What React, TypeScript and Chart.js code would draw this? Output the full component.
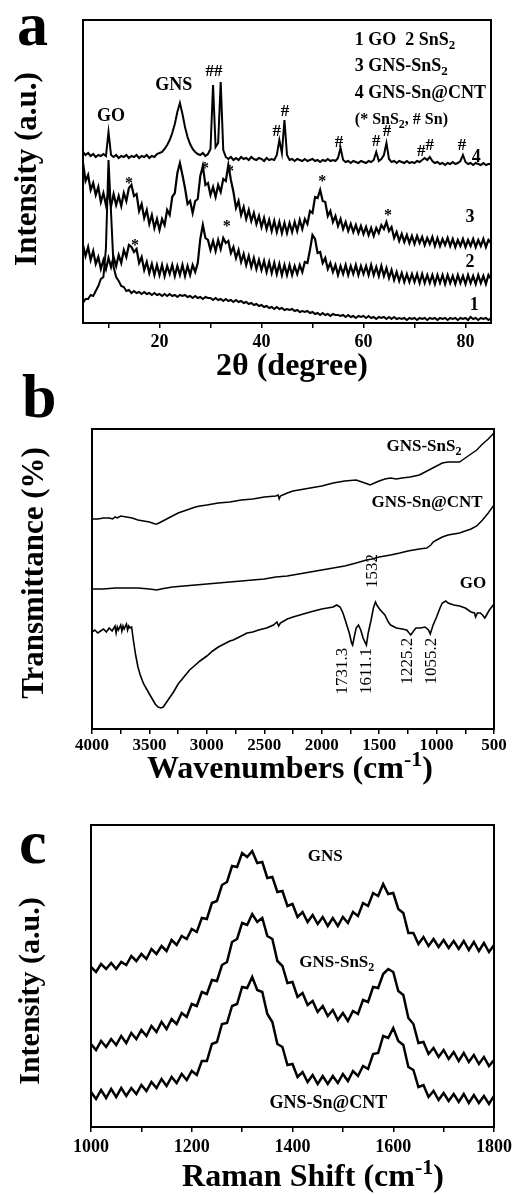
import React, { useEffect, useRef } from 'react';
import { Chart, registerables } from 'chart.js';

Chart.register(...registerables);

const FONT = '"Liberation Serif", "Times New Roman", Times, serif';

// ---------------- Panel a: XRD ----------------
const xrdAngles = [
  5, 5.5, 6, 6.5, 7, 7.5, 8, 8.5, 9, 9.5,
  10, 10.5, 11, 11.5, 12, 12.5, 13, 13.5, 14, 14.5,
  15, 15.5, 16, 16.5, 17, 17.5, 18, 18.5, 19, 19.5,
  20, 20.5, 21, 21.5, 22, 22.5, 23, 23.5, 24, 24.5,
  25, 25.5, 26, 26.5, 27, 27.5, 28, 28.5, 29, 29.5,
  30, 30.5, 31, 31.5, 32, 32.5, 33, 33.5, 34, 34.5,
  35, 35.5, 36, 36.5, 37, 37.5, 38, 38.5, 39, 39.5,
  40, 40.5, 41, 41.5, 42, 42.5, 43, 43.5, 44, 44.5,
  45, 45.5, 46, 46.5, 47, 47.5, 48, 48.5, 49, 49.5,
  50, 50.5, 51, 51.5, 52, 52.5, 53, 53.5, 54, 54.5,
  55, 55.5, 56, 56.5, 57, 57.5, 58, 58.5, 59, 59.5,
  60, 60.5, 61, 61.5, 62, 62.5, 63, 63.5, 64, 64.5,
  65, 65.5, 66, 66.5, 67, 67.5, 68, 68.5, 69, 69.5,
  70, 70.5, 71, 71.5, 72, 72.5, 73, 73.5, 74, 74.5,
  75, 75.5, 76, 76.5, 77, 77.5, 78, 78.5, 79, 79.5,
  80, 80.5, 81, 81.5, 82, 82.5, 83, 83.5, 84, 84.5,
  85,
];

const xrdGNSSnCNT = [
  171, 168, 170, 167, 169, 166, 168, 167, 169, 167,
  191, 168, 166, 168, 165, 167, 166, 168, 165, 167,
  166, 168, 165, 167, 166, 168, 165, 167, 166, 169,
  170, 171, 174, 178, 183, 190, 199, 211, 220, 209,
  196, 186, 179, 174, 171, 169, 168, 170, 167, 169,
  174, 238, 176, 180, 241, 173, 166, 164, 166, 163,
  165, 163, 166, 164, 165, 163, 166, 164, 163, 165,
  164, 162, 165, 163, 164, 163, 168, 183, 170, 203,
  168, 163, 164, 162, 164, 163, 162, 164, 162, 163,
  164, 162, 163, 161, 163, 162, 164, 162, 163, 162,
  165, 175, 163, 161, 162, 160, 162, 161, 160, 162,
  161, 160, 162, 161, 163, 171, 162, 164, 168, 180,
  164, 161, 162, 160, 162, 161, 160, 162, 160, 161,
  160, 162, 161, 163, 165, 163, 166, 162, 160, 161,
  159, 160, 158, 160, 159, 161, 159, 160, 162, 168,
  161, 159, 160, 158, 160, 159, 158, 160, 158, 159,
  159,
];

const xrdGNSSnS2 = [
  160, 142, 148, 133, 140, 128, 136, 121, 130, 118,
  131, 117, 129, 118, 127, 117, 130, 122, 135, 138,
  127, 129, 112, 119, 105, 113, 99, 108, 95, 104,
  93, 104, 98, 113, 108, 126, 130, 150, 160, 148,
  135, 119, 122, 110, 122, 124, 147, 157, 138, 140,
  128, 136, 126, 138, 131, 144, 142, 158, 143, 131,
  115, 122, 108, 116, 104, 113, 102, 110, 99, 107,
  96, 105, 94, 103, 92, 102, 91, 101, 90, 100,
  90, 100, 91, 101, 92, 103, 94, 104, 99, 112,
  110, 126, 125, 133, 122, 121, 107, 112, 101, 107,
  97, 104, 94, 101, 92, 99, 91, 98, 90, 97,
  89, 96, 88, 95, 87, 95, 90, 98, 94, 101,
  92, 96, 85, 91, 82, 89, 81, 88, 80, 87,
  79, 87, 80, 86, 78, 85, 79, 86, 77, 85,
  77, 84, 78, 85, 77, 84, 76, 83, 77, 84,
  76, 83, 77, 84, 76, 83, 77, 84, 76, 83,
  80,
];

const xrdSnS2 = [
  78, 67, 76, 63, 72, 59, 66, 54, 63, 54,
  65, 56, 66, 57, 68, 60, 73, 66, 78, 76,
  71, 74, 60, 66, 53, 61, 50, 59, 48, 58,
  48, 58, 47, 57, 49, 58, 47, 57, 48, 58,
  47, 57, 48, 58, 51, 60, 84, 98, 85, 83,
  73, 82, 72, 83, 74, 85, 80, 82, 70, 76,
  65, 73, 61, 69, 58, 67, 56, 65, 54, 63,
  53, 62, 51, 61, 50, 60, 49, 59, 48, 58,
  48, 58, 48, 57, 49, 58, 51, 61, 60, 73,
  88, 84, 70, 71, 60, 65, 54, 60, 51, 58,
  48, 57, 49, 58, 48, 57, 49, 58, 48, 57,
  49, 57, 48, 58, 48, 56, 47, 57, 47, 55,
  45, 53, 43, 51, 42, 50, 41, 49, 41, 49,
  41, 49, 40, 49, 40, 48, 40, 48, 39, 48,
  40, 48, 39, 48, 40, 47, 39, 48, 40, 47,
  39, 48, 40, 47, 39, 48, 40, 47, 39, 48,
  44,
];

const xrdGO = [
  20, 24, 24, 28, 27, 32, 37, 44, 46, 75,
  163, 110, 56, 46, 42, 37, 36, 32, 33, 30,
  32, 30, 31, 29, 31, 29, 30, 28, 30, 28,
  29, 27, 29, 27, 29, 27, 28, 26, 28, 27,
  28, 26, 27, 25, 27, 25, 26, 24, 26, 25,
  25, 23, 25, 23, 24, 22, 24, 22, 23, 21,
  23, 21, 22, 20, 21, 19, 20, 18, 19, 17,
  18, 16, 17, 15, 16, 14, 16, 14, 15, 13,
  14, 13, 14, 12, 13, 11, 12, 11, 12, 10,
  11, 9, 10, 8, 10, 8, 9, 7, 9, 8,
  8, 7, 8, 6, 8, 6, 7, 5, 7, 6,
  7, 5, 7, 5, 6, 4, 6, 5, 6, 4,
  6, 4, 6, 4, 5, 4, 5, 3, 5, 4,
  5, 3, 5, 4, 5, 3, 5, 4, 5, 3,
  5, 4, 5, 3, 5, 4, 5, 3, 5, 4,
  5, 3, 6, 4, 5, 3, 5, 4, 5, 3,
  5,
];

const xrdTicks = [10, 20, 30, 40, 50, 60, 70, 80];
const xrdTickLabels = [20, 40, 60, 80];

// ---------------- Panel b: FTIR ----------------
const goWavenumbers = [
  4000, 3975, 3950, 3925, 3900, 3875, 3850, 3825, 3800, 3790, 3780, 3770, 3750, 3740, 3730, 3720,
  3700, 3690, 3680, 3670, 3655, 3640, 3620, 3600, 3580, 3550, 3520, 3495, 3470, 3450, 3425, 3400,
  3380, 3350, 3320, 3290, 3250, 3200, 3150, 3100, 3060, 3000, 2950, 2900, 2850, 2800, 2770, 2700,
  2650, 2600, 2550, 2480, 2420, 2390, 2375, 2360, 2300, 2250, 2190, 2100, 2000, 1950, 1900, 1870,
  1840, 1815, 1790, 1760, 1740, 1731, 1715, 1700, 1680, 1660, 1640, 1611, 1595, 1570, 1550, 1532,
  1515, 1490, 1450, 1420, 1400, 1350, 1300, 1260, 1225, 1200, 1180, 1140, 1100, 1070, 1055, 1030,
  1000, 970, 950, 920, 900, 850, 800, 750, 700, 670, 660, 645, 620, 600, 580, 560, 540, 520, 500,
];
const goTransmittance = [
  97, 99, 96, 98, 100, 97, 101, 98, 103, 96, 102, 99, 104, 98, 103, 100,
  105, 99, 103, 101, 102, 89, 74, 62, 54, 45, 39, 34, 29, 25, 22, 21,
  22, 27, 32, 37, 45, 52, 59, 64, 68, 73, 78, 82, 85, 88, 89, 93,
  96, 97, 99, 101, 104, 107, 103, 106, 110, 112, 114, 117, 120, 121, 122, 124,
  122, 116, 107, 96, 86, 84, 93, 101, 104, 99, 91, 84, 96, 109, 121, 127,
  123, 119, 114, 107, 104, 101, 100, 99, 94, 98, 101, 101, 102, 99, 95, 104,
  112, 121, 126, 128, 126, 124, 123, 121, 117, 116, 112, 116, 116, 114, 111, 115, 119, 122, 125,
];

const snS2Wavenumbers = [
  4000, 3950, 3900, 3850, 3820, 3800, 3780, 3750, 3700, 3650, 3600, 3550, 3500, 3450, 3435, 3400,
  3350, 3300, 3250, 3200, 3150, 3100, 3060, 3000, 2900, 2800, 2700, 2600, 2500, 2400, 2380, 2370,
  2360, 2300, 2250, 2200, 2100, 2000, 1900, 1800, 1700, 1650, 1600, 1580, 1540, 1500, 1450, 1400,
  1350, 1300, 1230, 1150, 1100, 1050, 1000, 950, 900, 850, 800, 750, 700, 650, 600, 550, 500,
];
const snS2Transmittance = [
  210, 210, 211, 211, 210, 212, 211, 213, 212, 211, 209, 208, 207, 205, 205, 207,
  210, 213, 216, 218, 220, 222, 223, 224, 226, 227, 229, 230, 232, 233, 234, 230,
  233, 236, 238, 239, 241, 243, 246, 248, 249, 247, 245, 244, 246, 248, 250, 251,
  250, 251, 252, 254, 257, 260, 263, 266, 267, 267, 267, 271, 275, 279, 285, 290, 296,
];

const snCntWavenumbers = [
  4000, 3900, 3800, 3700, 3600, 3500, 3435, 3400, 3300, 3200, 3100, 3000, 2900, 2800, 2700, 2600,
  2500, 2400, 2300, 2200, 2100, 2000, 1900, 1800, 1700, 1610, 1560, 1500, 1400, 1320, 1250, 1150,
  1085, 1050, 1030, 1000, 950, 900, 850, 800, 750, 700, 650, 600, 550, 500,
];
const snCntTransmittance = [
  140, 140, 141, 141, 141, 140, 139, 140, 142, 143, 144, 145, 146, 147, 148, 149,
  150, 152, 153, 155, 157, 159, 161, 163, 166, 169, 170, 172, 174, 176, 178, 180,
  181, 184, 187, 189, 192, 194, 195, 196, 198, 200, 203, 209, 216, 224,
];

const ftirTicks = [500, 750, 1000, 1250, 1500, 1750, 2000, 2250, 2500, 2750, 3000, 3250, 3500, 3750, 4000];
const ftirTickLabels = [500, 1000, 1500, 2000, 2500, 3000, 3500, 4000];

// ---------------- Panel c: Raman ----------------
const ramanShift = [
  1000, 1010, 1020, 1030, 1040, 1050, 1060, 1070, 1080, 1090,
  1100, 1110, 1120, 1130, 1140, 1150, 1160, 1170, 1180, 1190,
  1200, 1210, 1220, 1230, 1240, 1250, 1260, 1270, 1280, 1290,
  1300, 1310, 1320, 1330, 1340, 1350, 1360, 1370, 1380, 1390,
  1400, 1410, 1420, 1430, 1440, 1450, 1460, 1470, 1480, 1490,
  1500, 1510, 1520, 1530, 1540, 1550, 1560, 1570, 1580, 1590,
  1600, 1610, 1620, 1630, 1640, 1650, 1660, 1670, 1680, 1690,
  1700, 1710, 1720, 1730, 1740, 1750, 1760, 1770, 1780, 1790,
  1800,
];
const ramanGNS = [
  160, 155, 163, 158, 164, 158, 165, 162, 171, 166,
  173, 168, 178, 173, 181, 176, 187, 182, 191, 188,
  198, 195, 209, 208, 224, 226, 242, 245, 261, 260,
  274, 270, 276, 264, 265, 249, 250, 235, 236, 221,
  223, 210, 215, 205, 212, 203, 210, 201, 209, 201,
  210, 204, 215, 211, 224, 221, 234, 231, 243, 233,
  234, 218, 214, 194, 194, 183, 190, 181, 188, 180,
  187, 179, 186, 178, 186, 177, 185, 176, 184, 175,
  182,
];
const ramanGNSSnS2 = [
  83, 77, 86, 80, 88, 82, 91, 84, 94, 88,
  97, 91, 101, 95, 105, 98, 108, 103, 114, 110,
  123, 121, 135, 133, 147, 146, 162, 165, 185, 188,
  204, 202, 213, 205, 209, 191, 188, 166, 161, 144,
  145, 130, 134, 122, 126, 115, 121, 111, 117, 107,
  114, 106, 116, 113, 127, 125, 140, 139, 153, 158,
  155, 136, 132, 109, 103, 84, 85, 73, 79, 70,
  77, 68, 75, 66, 74, 65, 72, 63, 70, 61,
  67,
];
const ramanGNSSnCNT = [
  35, 28, 37, 29, 38, 30, 39, 31, 39, 33,
  42, 36, 45, 39, 48, 41, 50, 44, 53, 47,
  56, 52, 66, 66, 83, 85, 103, 104, 121, 123,
  140, 139, 150, 137, 135, 113, 105, 83, 80, 62,
  63, 50, 55, 45, 52, 43, 51, 43, 51, 44,
  53, 46, 56, 51, 61, 58, 73, 74, 91, 89,
  99, 86, 82, 60, 57, 40, 42, 30, 36, 27,
  34, 26, 33, 25, 33, 24, 32, 24, 31, 23,
  31,
];
const ramanTicks = [1000, 1100, 1200, 1300, 1400, 1500, 1600, 1700, 1800];
const ramanTickLabels = [1000, 1200, 1400, 1600, 1800];

// ---------------- drawing helpers ----------------
// "_2" = subscript single char, "^{-1}" = superscript group
function drawRich(ctx: any, text: string, x: number, y: number, it: any) {
  const size = it.size || 18;
  const weight = it.bold === false ? '' : 'bold ';
  const parts: { s: string; kind: string }[] = [];
  text.split(/(_.|\^\{[^}]*\})/).forEach((p) => {
    if (!p) return;
    if (p[0] === '_' && p.length === 2) parts.push({ s: p[1], kind: 'sub' });
    else if (p[0] === '^' && p[1] === '{') parts.push({ s: p.slice(2, -1), kind: 'sup' });
    else parts.push({ s: p, kind: 'n' });
  });
  const fontFor = (k: string) =>
    `${weight}${k === 'n' ? size : Math.round(size * (k === 'sup' ? 0.68 : 0.72))}px ${FONT}`;
  let total = 0;
  const widths = parts.map((p) => {
    ctx.font = fontFor(p.kind);
    const w = ctx.measureText(p.s).width;
    total += w;
    return w;
  });
  ctx.save();
  ctx.translate(x, y);
  if (it.rotate) ctx.rotate((it.rotate * Math.PI) / 180);
  let cx = it.align === 'left' ? 0 : it.align === 'right' ? -total : -total / 2;
  ctx.fillStyle = '#000';
  ctx.textAlign = 'left';
  ctx.textBaseline = it.baseline || 'middle';
  parts.forEach((p, i) => {
    ctx.font = fontFor(p.kind);
    const dy = p.kind === 'sub' ? size * 0.3 : p.kind === 'sup' ? -size * 0.3 : 0;
    ctx.fillText(p.s, cx, dy);
    cx += widths[i];
  });
  ctx.restore();
}

const panelTextPlugin = {
  id: 'panelText',
  afterDraw(chart: any, _args: any, opts: any) {
    const ctx = chart.ctx;
    const a = chart.chartArea;
    ctx.save();
    ctx.strokeStyle = '#000';
    ctx.lineWidth = 2;
    ctx.strokeRect(a.left, a.top, a.right - a.left, a.bottom - a.top);
    (opts.items || []).forEach((it: any) => {
      let x = it.x;
      let y = it.y;
      if (it.data) {
        x = chart.scales.x.getPixelForValue(it.x);
        y = chart.scales.y.getPixelForValue(it.y);
      }
      drawRich(ctx, it.text, x, y, it);
    });
    ctx.restore();
  },
};

function series(xs: number[], ys: number[], width: number) {
  return {
    data: xs.map((x, i) => ({ x, y: ys[i] })),
    borderColor: '#000',
    backgroundColor: '#000',
    borderWidth: width,
    pointRadius: 0,
    tension: 0,
    fill: false,
    borderJoinStyle: 'miter',
  };
}

function makeConfig(p: any) {
  return {
    type: 'line',
    data: { datasets: p.datasets },
    options: {
      responsive: false,
      animation: false,
      devicePixelRatio: 1,
      events: [],
      layout: { padding: p.pad },
      plugins: {
        legend: { display: false },
        tooltip: { enabled: false },
        panelText: { items: p.items },
      },
      scales: {
        x: {
          type: 'linear',
          min: p.xMin,
          max: p.xMax,
          reverse: !!p.reverse,
          afterBuildTicks: (axis: any) => {
            axis.ticks = p.ticks.map((v: number) => ({ value: v }));
          },
          afterFit: (axis: any) => {
            axis.height = p.axisHeight;
          },
          ticks: {
            autoSkip: false,
            maxRotation: 0,
            minRotation: 0,
            padding: p.tickPad,
            color: '#000',
            font: { family: FONT, size: p.tickSize, weight: 'bold', lineHeight: 1 },
            callback: (v: number) => (p.labels.includes(v) ? String(v) : ''),
          },
          grid: { drawOnChartArea: false, drawTicks: true, tickLength: 5, color: '#000', lineWidth: 1.5 },
          border: { display: true, color: '#000', width: 2 },
          title: { display: false },
        },
        y: { display: false, min: 0, max: p.yMax },
      },
    },
    plugins: [panelTextPlugin],
  };
}

const xrdConfig = () =>
  makeConfig({
    datasets: [
      series(xrdAngles, xrdGNSSnCNT, 2),
      series(xrdAngles, xrdGNSSnS2, 2.2),
      series(xrdAngles, xrdSnS2, 2.2),
      series(xrdAngles, xrdGO, 2),
    ],
    xMin: 5,
    xMax: 85,
    yMax: 303,
    ticks: xrdTicks,
    labels: xrdTickLabels,
    tickSize: 18,
    tickPad: 5,
    axisHeight: 67,
    pad: { left: 83, top: 20, right: 27, bottom: 0 },
    items: [
      { text: 'a', x: 17, y: 45, size: 62, align: 'left', baseline: 'alphabetic' },
      { text: 'Intensity (a.u.)', x: 28, y: 169, size: 31, rotate: -90 },
      { text: '2θ (degree)', x: 292, y: 367, size: 32 },
      { text: '1 GO  2 SnS_2', x: 58.3, y: 283, data: true, align: 'left', size: 18 },
      { text: '3 GNS-SnS_2', x: 58.3, y: 257, data: true, align: 'left', size: 18 },
      { text: '4 GNS-Sn@CNT', x: 58.3, y: 230, data: true, align: 'left', size: 18 },
      { text: '(* SnS_2, # Sn)', x: 58.3, y: 203, data: true, align: 'left', size: 16 },
      { text: 'GO', x: 10.5, y: 207, data: true, size: 18 },
      { text: 'GNS', x: 22.8, y: 238, data: true, size: 18 },
      { text: '##', x: 30.7, y: 251, data: true, size: 17 },
      { text: '#', x: 44.6, y: 211, data: true, size: 17 },
      { text: '#', x: 43.0, y: 191, data: true, size: 17 },
      { text: '#', x: 55.2, y: 180, data: true, size: 17 },
      { text: '#', x: 62.5, y: 181, data: true, size: 17 },
      { text: '#', x: 64.6, y: 191, data: true, size: 17 },
      { text: '#', x: 71.3, y: 171, data: true, size: 17 },
      { text: '#', x: 73.0, y: 177, data: true, size: 17 },
      { text: '#', x: 79.3, y: 177, data: true, size: 17 },
      { text: '4', x: 82.1, y: 166, data: true, size: 18 },
      { text: '3', x: 80.9, y: 106, data: true, size: 18 },
      { text: '2', x: 80.9, y: 61, data: true, size: 18 },
      { text: '1', x: 81.7, y: 18, data: true, size: 18 },
      { text: '*', x: 14.0, y: 139, data: true, size: 16 },
      { text: '*', x: 28.9, y: 154, data: true, size: 16 },
      { text: '*', x: 33.8, y: 151, data: true, size: 16 },
      { text: '*', x: 51.9, y: 141, data: true, size: 16 },
      { text: '*', x: 15.2, y: 77, data: true, size: 16 },
      { text: '*', x: 33.2, y: 96, data: true, size: 16 },
      { text: '*', x: 64.8, y: 107, data: true, size: 16 },
    ],
  });

const ftirConfig = () =>
  makeConfig({
    datasets: [
      series(snS2Wavenumbers, snS2Transmittance, 1.5),
      series(snCntWavenumbers, snCntTransmittance, 1.5),
      series(goWavenumbers, goTransmittance, 1.6),
    ],
    xMin: 500,
    xMax: 4000,
    reverse: true,
    yMax: 300,
    ticks: ftirTicks,
    labels: ftirTickLabels,
    tickSize: 17,
    tickPad: 3,
    axisHeight: 71,
    pad: { left: 92, top: 69, right: 24, bottom: 0 },
    items: [
      { text: 'b', x: 22, y: 57, size: 62, align: 'left', baseline: 'alphabetic' },
      { text: 'Transmittance (%)', x: 35, y: 213, size: 31, rotate: -90 },
      { text: 'Wavenumbers (cm^{-1})', x: 290, y: 410, size: 32 },
      { text: 'GNS-SnS_2', x: 1110, y: 282, data: true, size: 17 },
      { text: 'GNS-Sn@CNT', x: 1083, y: 226, data: true, size: 17 },
      { text: 'GO', x: 683, y: 145, data: true, size: 17 },
      { text: '1532', x: 1554, y: 158, data: true, size: 17, bold: false, rotate: -90 },
      { text: '1731.3', x: 1815, y: 58, data: true, size: 17, bold: false, rotate: -90 },
      { text: '1611.1', x: 1606, y: 58, data: true, size: 17, bold: false, rotate: -90 },
      { text: '1225.2', x: 1249, y: 68, data: true, size: 17, bold: false, rotate: -90 },
      { text: '1055.2', x: 1040, y: 68, data: true, size: 17, bold: false, rotate: -90 },
    ],
  });

const ramanConfig = () =>
  makeConfig({
    datasets: [
      series(ramanShift, ramanGNS, 2.5),
      series(ramanShift, ramanGNSSnS2, 2.5),
      series(ramanShift, ramanGNSSnCNT, 2.5),
    ],
    xMin: 1000,
    xMax: 1800,
    yMax: 302,
    ticks: ramanTicks,
    labels: ramanTickLabels,
    tickSize: 18,
    tickPad: 6,
    axisHeight: 67,
    pad: { left: 91, top: 25, right: 19, bottom: 0 },
    items: [
      { text: 'c', x: 19, y: 63, size: 62, align: 'left', baseline: 'alphabetic' },
      { text: 'Intensity (a.u.)', x: 31, y: 191, size: 30, rotate: -90 },
      { text: 'Raman Shift (cm^{-1})', x: 313, y: 378, size: 32 },
      { text: 'GNS', x: 1465, y: 270, data: true, size: 17 },
      { text: 'GNS-SnS_2', x: 1488, y: 164, data: true, size: 17 },
      { text: 'GNS-Sn@CNT', x: 1471, y: 24, data: true, size: 18 },
    ],
  });

function Panel({ top, height, build }: { top: number; height: number; build: () => any }) {
  const ref = useRef<HTMLCanvasElement>(null);
  useEffect(() => {
    const chart = new Chart(ref.current as HTMLCanvasElement, build());
    return () => chart.destroy();
  }, []);
  return (
    <canvas
      ref={ref}
      width={518}
      height={height}
      style={{ position: 'absolute', left: 0, top, width: 518, height, display: 'block' }}
    />
  );
}

export default function App() {
  return (
    <div style={{ position: 'absolute', left: 0, top: 0, width: 518, height: 1194, background: '#fff', overflow: 'hidden' }}>
      <Panel top={0} height={390} build={xrdConfig} />
      <Panel top={360} height={440} build={ftirConfig} />
      <Panel top={800} height={394} build={ramanConfig} />
    </div>
  );
}
